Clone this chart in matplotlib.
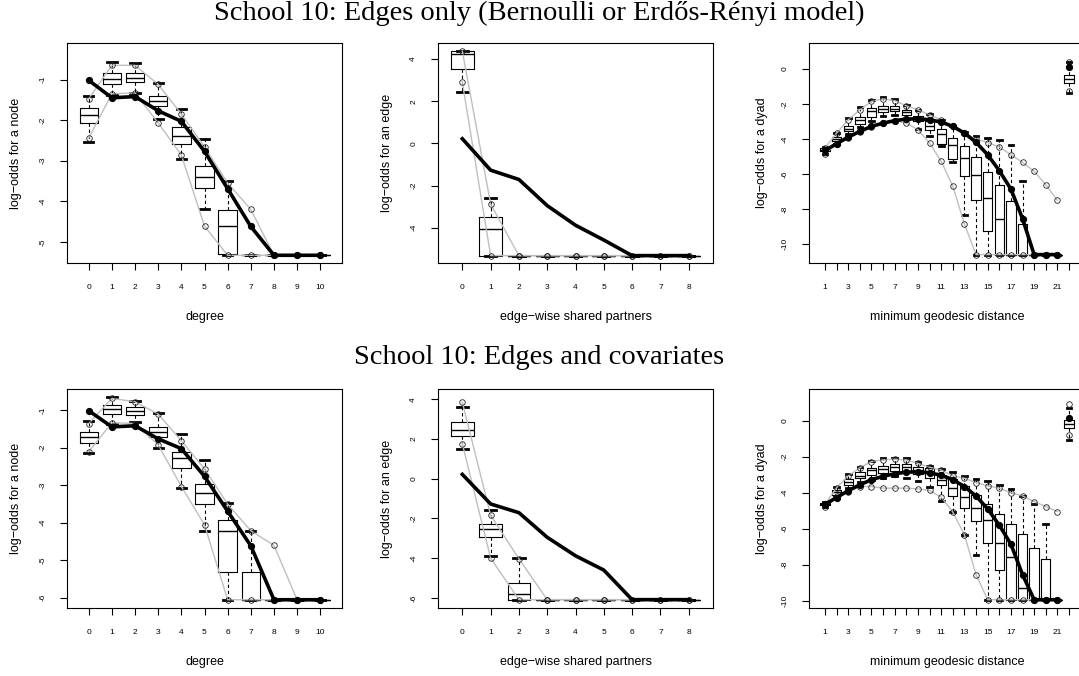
import numpy as np
import matplotlib
matplotlib.use('Agg')
import matplotlib.pyplot as plt

plt.rcParams['font.family'] = ['Liberation Sans', 'DejaVu Sans']

# ---- degree (0..10) ----
deg_cats = list(range(11))
deg1_obs = [-1.02, -1.45, -1.42, -1.77, -2.03, -2.77, -3.69, -4.62, -5.33, -5.33, -5.33]
deg1_q1 = [-2.07, -1.10, -1.07, -1.65, -2.60, -3.68, -5.31, -5.33, -5.33, -5.33, -5.33]
deg1_med = [-1.88, -0.98, -0.96, -1.52, -2.40, -3.41, -4.61, -5.33, -5.33, -5.33, -5.33]
deg1_q3 = [-1.70, -0.84, -0.85, -1.41, -2.17, -3.13, -4.22, -5.33, -5.33, -5.33, -5.33]
deg1_wlo = [-2.54, -1.37, -1.33, -1.97, -2.97, -4.20, -5.33, -5.33, -5.33, -5.33, -5.33]
deg1_whi = [-1.41, -0.57, -0.59, -1.08, -1.72, -2.46, -3.50, -5.33, -5.33, -5.33, -5.33]
deg1_lo = [-2.44, -1.35, -1.33, -2.07, -2.86, -4.61, -5.33, -5.33, -5.33, -5.33, -5.33]
deg1_hi = [-1.47, -0.65, -0.65, -1.12, -1.85, -2.66, -3.55, -4.20, -5.33, -5.33, -5.33]

deg2_obs = [-1.02, -1.45, -1.42, -1.77, -2.03, -2.77, -3.70, -4.62, -6.06, -6.06, -6.06]
deg2_q1 = [-1.89, -1.11, -1.13, -1.73, -2.55, -3.51, -5.33, -6.06, -6.06, -6.06, -6.06]
deg2_med = [-1.73, -0.98, -1.03, -1.58, -2.29, -3.20, -4.22, -6.06, -6.06, -6.06, -6.06]
deg2_q3 = [-1.58, -0.87, -0.93, -1.44, -2.11, -2.97, -3.93, -5.33, -6.06, -6.06, -6.06]
deg2_wlo = [-2.14, -1.37, -1.33, -2.02, -3.09, -4.22, -6.06, -6.06, -6.06, -6.06, -6.06]
deg2_whi = [-1.28, -0.64, -0.75, -1.07, -1.65, -2.33, -3.49, -4.22, -6.06, -6.06, -6.06]
deg2_lo = [-2.11, -1.34, -1.36, -1.93, -3.04, -4.06, -6.06, -6.06, -6.06, -6.06, -6.06]
deg2_hi = [-1.36, -0.69, -0.78, -1.11, -1.82, -2.57, -3.51, -4.22, -4.61, -6.06, -6.06]

# ---- edge-wise shared partners (0..8) ----
esp_cats = list(range(9))
esp1_obs = [0.22, -1.27, -1.71, -2.95, -3.88, -4.58, -5.32, -5.32, -5.32]
esp1_q1 = [3.52, -5.32, -5.32, -5.32, -5.32, -5.32, -5.32, -5.32, -5.32]
esp1_med = [4.24, -4.08, -5.32, -5.32, -5.32, -5.32, -5.32, -5.32, -5.32]
esp1_q3 = [4.37, -3.49, -5.32, -5.32, -5.32, -5.32, -5.32, -5.32, -5.32]
esp1_wlo = [2.46, -5.32, -5.32, -5.32, -5.32, -5.32, -5.32, -5.32, -5.32]
esp1_whi = [4.37, -2.60, -5.32, -5.32, -5.32, -5.32, -5.32, -5.32, -5.32]
esp1_lo = [2.90, -5.32, -5.32, -5.32, -5.32, -5.32, -5.32, -5.32, -5.32]
esp1_hi = [4.37, -2.87, -5.32, -5.32, -5.32, -5.32, -5.32, -5.32, -5.32]

esp2_obs = [0.22, -1.27, -1.71, -2.95, -3.88, -4.60, -6.09, -6.09, -6.09]
esp2_q1 = [2.16, -2.95, -6.09, -6.09, -6.09, -6.09, -6.09, -6.09, -6.09]
esp2_med = [2.46, -2.53, -5.79, -6.09, -6.09, -6.09, -6.09, -6.09, -6.09]
esp2_q3 = [2.88, -2.26, -5.23, -6.09, -6.09, -6.09, -6.09, -6.09, -6.09]
esp2_wlo = [1.50, -3.87, -6.09, -6.09, -6.09, -6.09, -6.09, -6.09, -6.09]
esp2_whi = [3.63, -1.59, -3.97, -6.09, -6.09, -6.09, -6.09, -6.09, -6.09]
esp2_lo = [1.76, -4.00, -6.09, -6.09, -6.09, -6.09, -6.09, -6.09, -6.09]
esp2_hi = [3.85, -1.84, -4.03, -6.09, -6.09, -6.09, -6.09, -6.09, -6.09]

# ---- minimum geodesic distance (1..21, then NR) ----
geo_cats = list(range(1, 23))
geo1_obs = [-4.65, -4.27, -3.89, -3.56, -3.28, -3.09, -2.95, -2.86, -2.84, -2.90, -3.03,
            -3.28, -3.66, -4.19, -4.90, -5.81, -6.86, -8.55, -10.61, -10.61, -10.61, 0.09]
geo1_q1 = [-4.70, -4.13, -3.56, -3.13, -2.74, -2.46, -2.42, -2.62, -2.99, -3.47, -4.27,
           -5.12, -6.13, -7.46, -9.27, -10.61, -10.61, -10.61, -10.61, -10.61, -10.61, -0.80]
geo1_med = [-4.60, -4.00, -3.42, -2.93, -2.42, -2.27, -2.27, -2.43, -2.80, -3.23, -3.70,
            -4.33, -5.09, -6.08, -7.37, -8.55, -10.61, -10.61, -10.61, -10.61, -10.61, -0.55]
geo1_q3 = [-4.51, -3.89, -3.28, -2.74, -2.23, -2.10, -2.10, -2.33, -2.67, -2.99, -3.42,
           -3.94, -4.42, -5.04, -5.90, -6.61, -7.56, -8.84, -10.61, -10.61, -10.61, -0.33]
geo1_wlo = [-4.83, -4.27, -3.70, -3.30, -2.95, -2.70, -2.65, -2.85, -3.45, -3.80, -4.40,
            -5.30, -8.36, -10.61, -10.61, -10.61, -10.61, -10.61, -10.61, -10.61, -10.61, -1.35]
geo1_whi = [-4.45, -3.66, -2.80, -2.17, -1.76, -1.62, -1.71, -2.04, -2.33, -2.58, -2.90,
            -3.25, -3.60, -3.85, -3.94, -4.08, -4.32, -6.42, -10.61, -10.61, -10.61, 0.40]
geo1_lo = [-4.83, -4.30, -3.95, -3.60, -3.30, -3.10, -2.97, -3.09, -3.47, -4.23, -5.28,
           -6.70, -8.86, -10.61, -10.61, -10.61, -10.61, -10.61, -10.61, -10.61, -10.61, -1.28]
geo1_hi = [-4.51, -3.66, -2.90, -2.33, -1.85, -1.71, -1.81, -2.10, -2.33, -2.62, -2.90,
           -3.28, -3.66, -4.00, -4.20, -4.46, -4.90, -5.33, -5.85, -6.61, -7.50, 0.40]

geo2_obs = [-4.65, -4.27, -3.89, -3.56, -3.28, -3.09, -2.95, -2.86, -2.84, -2.90, -3.03,
            -3.28, -3.66, -4.19, -4.90, -5.81, -6.86, -8.55, -9.95, -9.95, -9.95, 0.13]
geo2_q1 = [-4.70, -4.12, -3.57, -3.20, -3.01, -2.92, -2.79, -2.83, -2.96, -3.20, -3.57,
           -4.18, -4.86, -5.60, -6.80, -8.28, -9.95, -9.95, -9.95, -9.95, -9.95, -0.40]
geo2_med = [-4.62, -3.99, -3.42, -3.05, -2.74, -2.68, -2.55, -2.59, -2.74, -2.79, -3.29,
            -3.72, -4.22, -4.86, -5.51, -6.80, -7.60, -9.30, -9.95, -9.95, -9.95, -0.18]
geo2_q3 = [-4.55, -3.85, -3.25, -2.88, -2.61, -2.50, -2.40, -2.42, -2.55, -2.61, -3.01,
           -3.25, -3.62, -4.12, -4.64, -5.19, -5.73, -6.29, -7.08, -7.69, -9.95, 0.04]
geo2_wlo = [-4.81, -4.20, -3.75, -3.40, -3.30, -3.20, -3.10, -3.20, -3.38, -3.70, -4.45,
            -5.10, -6.34, -7.49, -9.95, -9.95, -9.95, -9.95, -9.95, -9.95, -9.95, -1.07]
geo2_whi = [-4.50, -3.66, -2.98, -2.55, -2.22, -2.09, -2.05, -2.09, -2.30, -2.50, -2.68,
            -2.87, -3.07, -3.24, -3.35, -3.57, -3.79, -4.18, -4.62, -5.73, -9.95, 0.70]
geo2_lo = [-4.81, -4.20, -3.94, -3.66, -3.66, -3.75, -3.75, -3.75, -3.79, -3.88, -4.25,
           -5.08, -6.34, -8.56, -9.95, -9.95, -9.95, -9.95, -9.95, -9.95, -9.95, -0.79]
geo2_hi = [-4.64, -3.72, -3.07, -2.61, -2.27, -2.18, -2.14, -2.18, -2.37, -2.59, -2.74,
           -3.07, -3.20, -3.44, -3.62, -3.75, -4.00, -4.18, -4.50, -4.77, -5.05, 0.93]

W, H = 1079, 676
fig = plt.figure(figsize=(W / 100, H / 100), dpi=100)


def panel(rect, cats, obs, q1, med, q3, wlo, whi, lo, hi, xlim, ylim, yticks,
          xlabel, ylabel, nline=None, obs_marks=True, odd_labels=False):
    ax = fig.add_axes(rect)
    n = len(cats) if nline is None else nline
    stats = [dict(med=m, q1=a, q3=b, whislo=c, whishi=d, fliers=[])
             for a, m, b, c, d in zip(q1, med, q3, wlo, whi)]
    ax.bxp(stats, positions=cats, widths=0.8, capwidths=0.4, showfliers=False,
           manage_ticks=False,
           boxprops=dict(color='k', lw=0.8),
           whiskerprops=dict(color='k', lw=0.8, ls=(0, (3, 2.5))),
           capprops=dict(color='k', lw=2.0),
           medianprops=dict(color='k', lw=1.0))
    mk = dict(marker='o', ms=4, mfc='none', mec='#222222', mew=0.6, ls='none', zorder=4)
    ax.plot(cats[:n], lo[:n], color='#bfbfbf', lw=1.0, zorder=3)
    ax.plot(cats[:n], hi[:n], color='#bfbfbf', lw=1.0, zorder=3)
    ax.plot(cats, lo, **mk)
    ax.plot(cats, hi, **mk)
    ax.plot(cats[:n], obs[:n], color='k', lw=2.6, zorder=5, solid_joinstyle='round')
    if obs_marks:
        ax.plot(cats, obs, 'o', color='k', ms=4.2, zorder=6)
    ax.set_xlim(*xlim)
    ax.set_ylim(*ylim)
    ax.set_xticks(cats)
    if odd_labels:
        ax.set_xticklabels([str(c) if (c % 2 == 1 and c < 22) else '' for c in cats])
    else:
        ax.set_xticklabels([str(c) for c in cats])
    ax.set_yticks(yticks)
    ax.set_yticklabels([str(t) for t in yticks], rotation=90, va='center')
    ax.tick_params(direction='out', length=5, width=0.8, labelsize=6, pad=10)
    ax.tick_params(axis='y', pad=10)
    for s in ax.spines.values():
        s.set_linewidth(0.8)
    ax.set_xlabel(xlabel, fontsize=9)
    ax.set_ylabel(ylabel, fontsize=9)
    ax.xaxis.set_label_coords(0.5, -54 / 220)
    ax.yaxis.set_label_coords(-51 / 275, 0.5)
    ax.xaxis.label.set_va('center')
    ax.yaxis.label.set_va('center')
    return ax


def fr(left, top, right, bottom):
    return [left / W, 1 - bottom / H, (right - left) / W, (bottom - top) / H]


rows = [
    (43, 263, (deg1_obs, deg1_q1, deg1_med, deg1_q3, deg1_wlo, deg1_whi, deg1_lo, deg1_hi),
     (esp1_obs, esp1_q1, esp1_med, esp1_q3, esp1_wlo, esp1_whi, esp1_lo, esp1_hi),
     (geo1_obs, geo1_q1, geo1_med, geo1_q3, geo1_wlo, geo1_whi, geo1_lo, geo1_hi),
     (-5.52, -0.10), (-5.67, 4.76), (-11.09, 1.49),
     [-5, -4, -3, -2, -1], [-4, -2, 0, 2, 4]),
    (389, 608, (deg2_obs, deg2_q1, deg2_med, deg2_q3, deg2_wlo, deg2_whi, deg2_lo, deg2_hi),
     (esp2_obs, esp2_q1, esp2_med, esp2_q3, esp2_wlo, esp2_whi, esp2_lo, esp2_hi),
     (geo2_obs, geo2_q1, geo2_med, geo2_q3, geo2_wlo, geo2_whi, geo2_lo, geo2_hi),
     (-6.28, -0.44), (-6.51, 4.52), (-10.41, 1.76),
     [-6, -5, -4, -3, -2, -1], [-6, -4, -2, 0, 2, 4]),
]

for top, bot, d, e, g, yl1, yl2, yl3, yt1, yt2 in rows:
    panel(fr(67, top, 342, bot), deg_cats, *d, (-0.94, 10.94), yl1, yt1,
          'degree', 'log\u2212odds for a node')
    panel(fr(438, top, 713, bot), esp_cats, *e, (-0.86, 8.86), yl2, yt2,
          'edge\u2212wise shared partners', 'log\u2212odds for an edge', obs_marks=False)
    ax = panel(fr(809, top, 1085, bot), geo_cats, *g, (-0.38, 23.38), yl3,
               [-10, -8, -6, -4, -2, 0], 'minimum geodesic distance',
               'log\u2212odds for a dyad', nline=21, odd_labels=True)
    ax.yaxis.set_label_coords(-47 / 276, 0.5)

fig.text(0.5, 1 - 13 / H, 'School 10: Edges only (Bernoulli or Erd\u0151s-R\u00e9nyi model)',
         ha='center', va='center', family='Liberation Serif', fontsize=20.5)
fig.text(0.5, 1 - 358 / H, 'School 10: Edges and covariates',
         ha='center', va='center', family='Liberation Serif', fontsize=20.5)

fig.savefig('out.png', dpi=100)
